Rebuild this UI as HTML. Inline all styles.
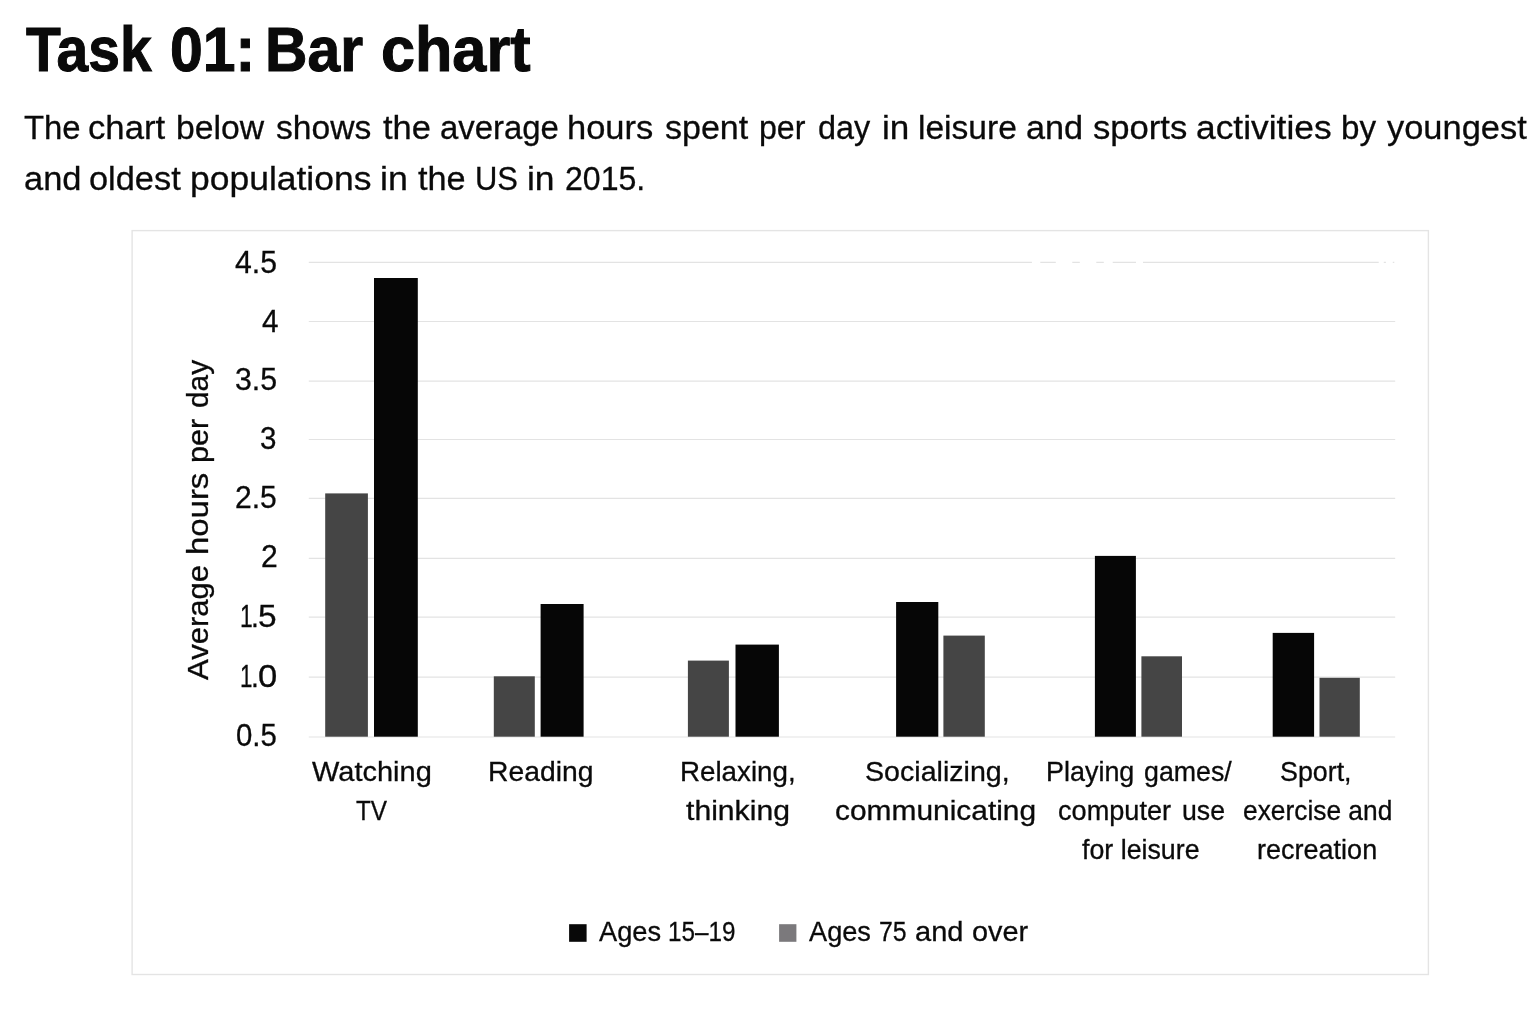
<!DOCTYPE html>
<html lang="en"><head><meta charset="utf-8"><title>Task 01: Bar chart</title>
<style>
html,body{margin:0;padding:0;background:#fff;}
body{width:1536px;height:1024px;position:relative;overflow:hidden;font-family:"Liberation Sans",sans-serif;color:#0a0a0a;font-weight:400;-webkit-text-stroke:0.3px #0a0a0a;}
.t{position:absolute;white-space:nowrap;line-height:1;margin:0;}
</style></head><body>
<svg width="1536" height="1024" viewBox="0 0 1536 1024" style="position:absolute;left:0;top:0">
<rect x="132.1" y="230.6" width="1296.3" height="743.9" fill="none" stroke="#e4e4e4" stroke-width="1.4"/>
<path d="M308.8 262.4H1031.9 M1040.3 262.4H1055.8 M1072.3 262.4H1079.8 M1096.3 262.4H1103.8 M1112.7 262.4H1136.0 M1143.0 262.4H1378.7 M1383.8 262.4H1385.9 M1392.8 262.4H1394.3" stroke="#e3e3e3" stroke-width="1.2" fill="none"/>
<path d="M308.8 321.5H1395.2" stroke="#e3e3e3" stroke-width="1.2" fill="none"/>
<path d="M308.8 381.2H1395.2" stroke="#e3e3e3" stroke-width="1.2" fill="none"/>
<path d="M308.8 439.5H1395.2" stroke="#e3e3e3" stroke-width="1.2" fill="none"/>
<path d="M308.8 498.3H1395.2" stroke="#e3e3e3" stroke-width="1.2" fill="none"/>
<path d="M308.8 558.3H1395.2" stroke="#e3e3e3" stroke-width="1.2" fill="none"/>
<path d="M308.8 617.2H1395.2" stroke="#e3e3e3" stroke-width="1.2" fill="none"/>
<path d="M308.8 677.1H1395.2" stroke="#e3e3e3" stroke-width="1.2" fill="none"/>
<path d="M308.8 737.0H1395.2" stroke="#e3e3e3" stroke-width="1.2" fill="none"/>
<rect x="325.2" y="493.4" width="42.7" height="243.3" fill="#454545"/>
<rect x="374.0" y="278.0" width="43.8" height="458.7" fill="#060606"/>
<rect x="493.8" y="676.3" width="41.0" height="60.4" fill="#454545"/>
<rect x="540.6" y="604.0" width="43.0" height="132.7" fill="#060606"/>
<rect x="687.9" y="660.6" width="41.0" height="76.1" fill="#454545"/>
<rect x="735.5" y="644.6" width="43.4" height="92.1" fill="#060606"/>
<rect x="896.1" y="602.0" width="42.2" height="134.7" fill="#060606"/>
<rect x="943.4" y="635.6" width="41.4" height="101.1" fill="#454545"/>
<rect x="1094.9" y="555.9" width="41.0" height="180.8" fill="#060606"/>
<rect x="1141.4" y="656.3" width="40.6" height="80.4" fill="#454545"/>
<rect x="1272.7" y="632.9" width="41.4" height="103.8" fill="#060606"/>
<rect x="1319.5" y="677.8" width="40.3" height="58.9" fill="#454545"/>
<rect x="569.1" y="924.2" width="17.5" height="17.6" fill="#080808"/>
<rect x="779.1" y="924.2" width="17.3" height="17.6" fill="#7b797c"/>
</svg>
<h1 class="t" style="left:0;top:18.31px;width:1536px;height:62.6px;font-size:62.6px;font-weight:700;-webkit-text-stroke:1px #060606;"><span class="t" style="left:26.25px;top:0;transform:scaleX(0.9098);transform-origin:0 0;">Task</span> <span class="t" style="left:169.87px;top:0;transform:scaleX(0.9410);transform-origin:0 0;">01:</span> <span class="t" style="left:265.49px;top:0;transform:scaleX(0.9399);transform-origin:0 0;">Bar</span> <span class="t" style="left:381.05px;top:0;transform:scaleX(0.9771);transform-origin:0 0;">chart</span></h1>
<p class="t" style="left:0;top:110.02px;width:1536px;height:34.0px;font-size:34.0px;font-weight:400;"><span class="t" style="left:24.25px;top:0;transform:scaleX(0.9666);transform-origin:0 0;">The</span> <span class="t" style="left:88.48px;top:0;transform:scaleX(1.0214);transform-origin:0 0;">chart</span> <span class="t" style="left:176.02px;top:0;transform:scaleX(0.9910);transform-origin:0 0;">below</span> <span class="t" style="left:276.25px;top:0;transform:scaleX(0.9882);transform-origin:0 0;">shows</span> <span class="t" style="left:382.50px;top:0;transform:scaleX(1.0139);transform-origin:0 0;">the</span> <span class="t" style="left:439.53px;top:0;transform:scaleX(0.9673);transform-origin:0 0;">average</span> <span class="t" style="left:566.72px;top:0;transform:scaleX(1.0146);transform-origin:0 0;">hours</span> <span class="t" style="left:665.00px;top:0;transform:scaleX(1.0003);transform-origin:0 0;">spent</span> <span class="t" style="left:758.86px;top:0;transform:scaleX(0.9451);transform-origin:0 0;">per</span> <span class="t" style="left:817.80px;top:0;transform:scaleX(0.9523);transform-origin:0 0;">day</span> <span class="t" style="left:881.69px;top:0;transform:scaleX(1.0309);transform-origin:0 0;">in</span> <span class="t" style="left:918.03px;top:0;transform:scaleX(0.9872);transform-origin:0 0;">leisure</span> <span class="t" style="left:1025.99px;top:0;transform:scaleX(1.0080);transform-origin:0 0;">and</span> <span class="t" style="left:1092.50px;top:0;transform:scaleX(1.0182);transform-origin:0 0;">sports</span> <span class="t" style="left:1196.46px;top:0;transform:scaleX(1.0399);transform-origin:0 0;">activities</span> <span class="t" style="left:1341.45px;top:0;transform:scaleX(0.9761);transform-origin:0 0;">by</span> <span class="t" style="left:1386.70px;top:0;transform:scaleX(1.0127);transform-origin:0 0;">youngest</span></p>
<p class="t" style="left:0;top:161.22px;width:1536px;height:34.0px;font-size:34.0px;font-weight:400;"><span class="t" style="left:23.99px;top:0;transform:scaleX(1.0127);transform-origin:0 0;">and</span> <span class="t" style="left:88.99px;top:0;transform:scaleX(1.0107);transform-origin:0 0;">oldest</span> <span class="t" style="left:190.41px;top:0;transform:scaleX(1.0429);transform-origin:0 0;">populations</span> <span class="t" style="left:380.39px;top:0;transform:scaleX(1.0530);transform-origin:0 0;">in</span> <span class="t" style="left:417.50px;top:0;transform:scaleX(1.0085);transform-origin:0 0;">the</span> <span class="t" style="left:475.18px;top:0;transform:scaleX(0.9090);transform-origin:0 0;">US</span> <span class="t" style="left:527.42px;top:0;transform:scaleX(1.0420);transform-origin:0 0;">in</span> <span class="t" style="left:564.56px;top:0;transform:scaleX(0.9432);transform-origin:0 0;">2015.</span></p>
<div class="t" style="left:234.80px;top:246.90px;font-size:31.3px;transform:scaleX(0.9652);transform-origin:0 0;">4.5</div>
<div class="t" style="left:261.70px;top:305.70px;font-size:31.3px;transform:scaleX(0.9471);transform-origin:0 0;">4</div>
<div class="t" style="left:234.63px;top:364.10px;font-size:31.3px;transform:scaleX(0.9691);transform-origin:0 0;">3.5</div>
<div class="t" style="left:260.36px;top:422.90px;font-size:31.3px;transform:scaleX(0.9437);transform-origin:0 0;">3</div>
<div class="t" style="left:235.04px;top:482.30px;font-size:31.3px;transform:scaleX(0.9596);transform-origin:0 0;">2.5</div>
<div class="t" style="left:261.04px;top:540.80px;font-size:31.3px;transform:scaleX(0.9600);transform-origin:0 0;">2</div>
<div class="t" style="left:0;top:600.50px;font-size:31.3px;"><span class="t" style="left:240.14px;top:0;transform:scaleX(0.7286);transform-origin:0 0;">1</span><span class="t" style="left:251.20px;top:0;transform:scaleX(0.9000);transform-origin:0 0;">.</span><span class="t" style="left:258.23px;top:0;transform:scaleX(1.0687);transform-origin:0 0;">5</span></div>
<div class="t" style="left:0;top:660.50px;font-size:31.3px;"><span class="t" style="left:239.77px;top:0;transform:scaleX(0.7143);transform-origin:0 0;">1</span><span class="t" style="left:250.80px;top:0;transform:scaleX(0.9000);transform-origin:0 0;">.</span><span class="t" style="left:257.59px;top:0;transform:scaleX(1.1062);transform-origin:0 0;">0</span></div>
<div class="t" style="left:235.96px;top:720.10px;font-size:31.3px;transform:scaleX(0.9382);transform-origin:0 0;">0.5</div>
<div class="t" style="left:312.10px;top:757.79px;font-size:27.3px;transform:scaleX(1.0619);transform-origin:0 0;">Watching</div>
<div class="t" style="left:356.40px;top:796.69px;font-size:27.3px;transform:scaleX(0.8914);transform-origin:0 0;">TV</div>
<div class="t" style="left:487.93px;top:757.79px;font-size:27.3px;transform:scaleX(1.0365);transform-origin:0 0;">Reading</div>
<div class="t" style="left:680.07px;top:757.79px;font-size:27.3px;transform:scaleX(1.0162);transform-origin:0 0;">Relaxing,</div>
<div class="t" style="left:685.50px;top:796.69px;font-size:27.3px;transform:scaleX(1.1044);transform-origin:0 0;">thinking</div>
<div class="t" style="left:864.65px;top:757.79px;font-size:27.3px;transform:scaleX(1.0481);transform-origin:0 0;">Socializing,</div>
<div class="t" style="left:835.20px;top:796.69px;font-size:27.3px;transform:scaleX(1.0954);transform-origin:0 0;">communicating</div>
<div class="t" style="left:1046.23px;top:757.79px;font-size:27.3px;transform:scaleX(0.9867);transform-origin:0 0;">Playing</div>
<div class="t" style="left:1143.62px;top:757.79px;font-size:27.3px;transform:scaleX(0.9805);transform-origin:0 0;">games/</div>
<div class="t" style="left:1057.61px;top:796.69px;font-size:27.3px;transform:scaleX(0.9938);transform-origin:0 0;">computer</div>
<div class="t" style="left:1182.12px;top:796.69px;font-size:27.3px;transform:scaleX(0.9778);transform-origin:0 0;">use</div>
<div class="t" style="left:1081.60px;top:836.19px;font-size:27.3px;transform:scaleX(0.9809);transform-origin:0 0;">for leisure</div>
<div class="t" style="left:1280.32px;top:757.79px;font-size:27.3px;transform:scaleX(0.9823);transform-origin:0 0;">Sport,</div>
<div class="t" style="left:1242.54px;top:796.69px;font-size:27.3px;transform:scaleX(0.9647);transform-origin:0 0;">exercise and</div>
<div class="t" style="left:1257.41px;top:836.19px;font-size:27.3px;transform:scaleX(0.9899);transform-origin:0 0;">recreation</div>
<div class="t" style="left:598.80px;top:917.34px;font-size:28.3px;transform:scaleX(0.9619);transform-origin:0 0;">Ages</div>
<div class="t" style="left:667.79px;top:917.34px;font-size:28.3px;transform:scaleX(0.8571);transform-origin:0 0;">15–19</div>
<div class="t" style="left:808.80px;top:917.34px;font-size:28.3px;transform:scaleX(0.9604);transform-origin:0 0;">Ages</div>
<div class="t" style="left:878.52px;top:917.34px;font-size:28.3px;transform:scaleX(0.8777);transform-origin:0 0;">75</div>
<div class="t" style="left:915.17px;top:917.34px;font-size:28.3px;transform:scaleX(1.0253);transform-origin:0 0;">and</div>
<div class="t" style="left:972.18px;top:917.34px;font-size:28.3px;transform:scaleX(1.0201);transform-origin:0 0;">over</div>
<div class="t" style="left:208.00px;top:680.40px;width:0;height:0;font-size:30.0px;transform:rotate(-90deg);transform-origin:0 0;"><span class="t" style="left:0.00px;top:-25.39px;transform:scaleX(1.0352);transform-origin:0 0;">Average</span> <span class="t" style="left:125.11px;top:-25.39px;transform:scaleX(1.0966);transform-origin:0 0;">hours</span> <span class="t" style="left:216.68px;top:-25.39px;transform:scaleX(1.0196);transform-origin:0 0;">per</span> <span class="t" style="left:272.20px;top:-25.39px;transform:scaleX(0.9964);transform-origin:0 0;">day</span></div>
</body></html>
